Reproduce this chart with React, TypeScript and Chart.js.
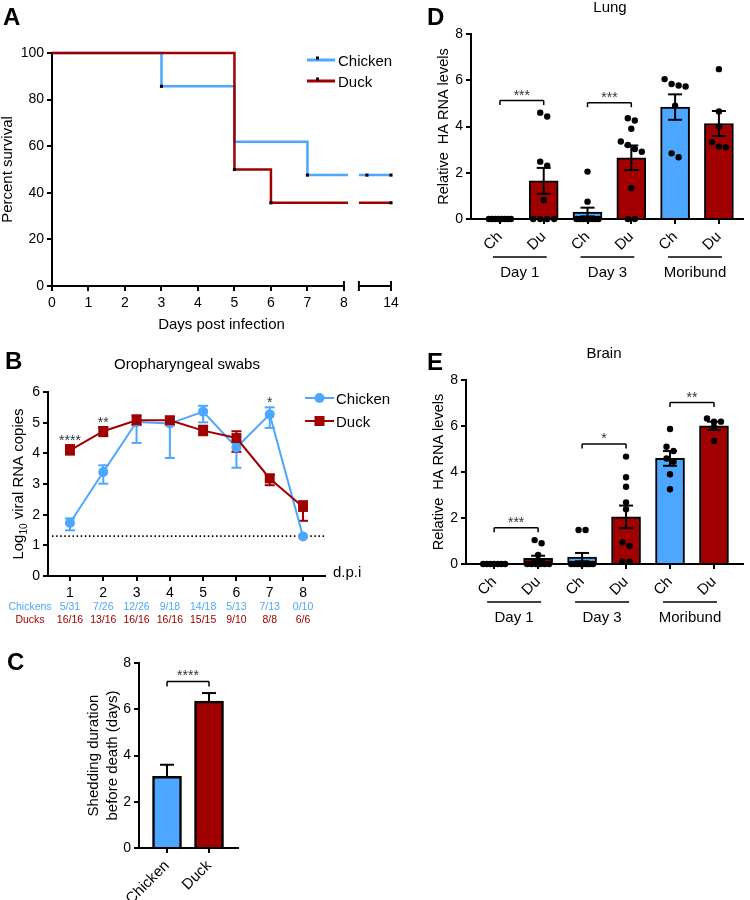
import React, { useEffect, useRef } from 'react';
import { Chart, registerables } from 'chart.js';

Chart.register(...registerables);

const BLUE = '#4DA6FF';
const RED = '#A00000';
const FONT = '"Liberation Sans", Arial, Helvetica, sans-serif';

// ---------- Panel A : survival ----------
const survivalDays = [0, 3, 5, 6, 7, 14];
const chickenSurvival = [100, 85.7, 61.9, 61.9, 47.6, 47.6];
const duckSurvival = [100, 100, 50, 35.7, 35.7, 35.7];
const chickenCensorDays = [3, 7, 11, 14];
const chickenCensorPct = [85.7, 47.6, 47.6, 47.6];
const duckCensorDays = [5, 6, 14];
const duckCensorPct = [50, 35.7, 35.7];
const survivalTickDays = [0, 1, 2, 3, 4, 5, 6, 7, 8, 14];

// ---------- Panel B : oropharyngeal swabs ----------
const swabDays = [1, 2, 3, 4, 5, 6, 7, 8];
const chickenSwab = [1.73, 3.39, 5.02, 4.97, 5.36, 4.19, 5.27, 1.29];
const chickenSwabHi = [1.88, 3.61, 5.2, 5.15, 5.55, 4.4, 5.5, 1.29];
const chickenSwabLo = [1.49, 3.01, 4.34, 3.85, 5.01, 3.53, 4.83, 1.29];
const duckSwab = [4.1, 4.72, 5.08, 5.08, 4.74, 4.5, 3.18, 2.25];
const duckSwabHi = [4.27, 4.86, 5.24, 5.19, 4.9, 4.72, 3.31, 2.44];
const duckSwabLo = [3.96, 4.56, 4.92, 4.92, 4.59, 4.05, 2.96, 1.8];
const swabDetectionLimit = 1.3;
const swabStars = ['****', '**', '', '', '', '', '*', ''];
const chickenPositive = ['5/31', '7/26', '12/26', '9/18', '14/18', '5/13', '7/13', '0/10'];
const duckPositive = ['16/16', '13/16', '16/16', '16/16', '15/15', '9/10', '8/8', '6/6'];

// ---------- Panel C : shedding duration ----------
const shedGroups = ['Chicken', 'Duck'];
const shedMean = [3.1, 6.35];
const shedSem = [0.5, 0.35];
const shedBracketLevel = 7.2;
const shedStars = '****';

// ---------- Panels D / E : tissues ----------
const tissueTicks = ['Ch', 'Du', 'Ch', 'Du', 'Ch', 'Du'];
const tissueGroups = ['Day 1', 'Day 3', 'Moribund'];

const lungMean = [0, 1.65, 0.3, 2.65, 4.84, 4.13];
const lungSem = [0, 0.56, 0.19, 0.53, 0.55, 0.54];
const lungPoints = [
  [0, 0, 0, 0, 0, 0, 0, 0],
  [4.6, 4.43, 2.48, 2.31, 0.82, 0, 0, 0, 0],
  [2.05, 0.75, 0, 0, 0, 0, 0, 0, 0, 0],
  [4.36, 4.26, 3.9, 3.35, 3.2, 3.03, 2.91, 1.33, 0, 0],
  [6.05, 5.84, 5.77, 5.73, 4.9, 2.84, 2.67],
  [6.48, 4.65, 4.0, 3.32, 3.13, 3.1],
];
const lungBracketPairs = [[0, 1], [2, 3]];
const lungBracketLevels = [5.12, 5.03];
const lungBracketStars = ['***', '***'];

const brainMean = [0, 0.25, 0.3, 2.05, 4.59, 6.01];
const brainSem = [0, 0.11, 0.18, 0.49, 0.32, 0.18];
const brainPoints = [
  [0, 0, 0, 0, 0, 0, 0],
  [1.04, 0.9, 0.39, 0, 0, 0, 0, 0, 0],
  [1.48, 1.48, 0, 0, 0, 0, 0, 0, 0, 0],
  [4.67, 3.77, 3.36, 2.68, 2.38, 0.94, 0.78, 0.1, 0.1],
  [5.87, 5.1, 4.91, 4.59, 4.45, 3.9, 3.25],
  [6.33, 6.19, 6.19, 5.97, 5.35],
];
const brainBracketPairs = [[0, 1], [2, 3], [4, 5]];
const brainBracketLevels = [1.58, 5.22, 7.02];
const brainBracketStars = ['***', '*', '**'];

// ---------- helpers ----------
const BRK = { leftEnd: 8, lineEnd: 8.11, resume: 8.41, axisEnd: 9.29, firstRightDay: 10, lastDay: 14 };
function breakX(d: number) {
  if (d <= BRK.leftEnd) return d;
  return BRK.resume + ((d - BRK.firstRightDay) / (BRK.lastDay - BRK.firstRightDay)) * (BRK.axisEnd - BRK.resume);
}

function put(ctx: CanvasRenderingContext2D, s: string, x: number, y: number, size: number, o: any = {}) {
  ctx.save();
  ctx.font = `${o.bold ? 'bold ' : ''}${size}px ${FONT}`;
  ctx.fillStyle = o.color || '#000';
  ctx.textAlign = o.align || 'center';
  ctx.textBaseline = o.baseline || 'alphabetic';
  if (o.rot) {
    ctx.translate(x, y);
    ctx.rotate(o.rot);
    ctx.fillText(s, 0, 0);
  } else {
    ctx.fillText(s, x, y);
  }
  ctx.restore();
}

function seg(ctx: CanvasRenderingContext2D, x1: number, y1: number, x2: number, y2: number, color = '#000', w = 2) {
  ctx.save();
  ctx.strokeStyle = color;
  ctx.lineWidth = w;
  ctx.beginPath();
  ctx.moveTo(x1, y1);
  ctx.lineTo(x2, y2);
  ctx.stroke();
  ctx.restore();
}

function baseOptions(padTop: number, padRight: number, scales: any) {
  return {
    responsive: false,
    animation: false,
    devicePixelRatio: 1,
    events: [],
    layout: { padding: { left: 0, top: padTop, right: padRight, bottom: 0 } },
    plugins: { legend: { display: false }, tooltip: { enabled: false }, title: { display: false } },
    scales,
  };
}

function yScale(min: number, max: number, step: number, width: number) {
  return {
    type: 'linear',
    min,
    max,
    ticks: { stepSize: step, font: { family: FONT, size: 14 }, color: '#000', padding: 3 },
    grid: { drawOnChartArea: false, drawTicks: true, tickLength: 5, color: '#000', lineWidth: 2 },
    border: { display: true, color: '#000', width: 2 },
    afterFit: (s: any) => {
      s.width = width;
      s.paddingTop = 0;
      s.paddingBottom = 0;
    },
  };
}

function xScale(min: number, max: number, values: number[], labels: string[], height: number, rot: number, border: boolean, size = 14) {
  return {
    type: 'linear',
    min,
    max,
    offset: false,
    afterBuildTicks: (s: any) => {
      s.ticks = values.map((v) => ({ value: v }));
    },
    ticks: {
      autoSkip: false,
      font: { family: FONT, size },
      color: '#000',
      padding: 4,
      minRotation: rot,
      maxRotation: rot,
      callback: (_v: any, i: number) => labels[i],
    },
    grid: { offset: false, drawOnChartArea: false, drawTicks: true, tickLength: 5, color: '#000', lineWidth: 2 },
    border: { display: border, color: '#000', width: 2 },
    afterFit: (s: any) => {
      s.height = height;
      s.paddingLeft = 0;
      s.paddingRight = 0;
    },
  };
}

function swarmOffsets(py: number[], spacing = 7, maxHalf = 11, tol = 5) {
  const idx = py.map((_, i) => i).sort((a, b) => py[a] - py[b]);
  const offs = new Array(py.length).fill(0);
  let cluster: number[] = [];
  const flush = () => {
    const n = cluster.length;
    if (!n) return;
    const s = n > 1 ? Math.min(spacing, (2 * maxHalf) / (n - 1)) : 0;
    cluster.forEach((k, j) => (offs[k] = (j - (n - 1) / 2) * s));
    cluster = [];
  };
  idx.forEach((k) => {
    if (cluster.length && py[k] - py[cluster[cluster.length - 1]] >= tol) flush();
    cluster.push(k);
  });
  flush();
  return offs;
}

// ---------- Panel A config ----------
function stepPoints(vals: number[]) {
  const pts: any[] = [];
  let last = vals[0];
  survivalDays.forEach((d, i) => {
    if (d <= BRK.leftEnd) {
      pts.push({ x: d, y: vals[i] });
      last = vals[i];
    }
  });
  pts.push({ x: BRK.lineEnd, y: last });
  pts.push({ x: (BRK.lineEnd + BRK.resume) / 2, y: null });
  pts.push({ x: BRK.resume, y: last });
  survivalDays.forEach((d, i) => {
    if (d > BRK.leftEnd) pts.push({ x: breakX(d), y: vals[i] });
  });
  return pts;
}

function buildA() {
  const legendPlugin = {
    id: 'aDecor',
    afterDraw(chart: any) {
      const { ctx, chartArea: ca, scales } = chart;
      const x = scales.x;
      put(ctx, 'A', 3, 25, 24, { bold: true, align: 'left' });
      put(ctx, 'Percent survival', 12, (ca.top + ca.bottom) / 2, 15, { rot: -Math.PI / 2 });
      put(ctx, 'Days post infection', (ca.left + ca.right) / 2, 329, 15);
      const yb = ca.bottom;
      const p0 = x.getPixelForValue(0);
      const p8 = x.getPixelForValue(BRK.leftEnd);
      const pr = x.getPixelForValue(BRK.resume);
      const pe = x.getPixelForValue(BRK.axisEnd);
      seg(ctx, p0 - 1, yb, p8, yb);
      seg(ctx, pr, yb, pe + 1, yb);
      seg(ctx, p8, yb - 5, p8, yb + 5);
      seg(ctx, pr, yb - 5, pr, yb + 5);
      seg(ctx, pe, yb - 5, pe, yb + 5);
      const items = [
        { label: 'Chicken', color: BLUE, y: 60 },
        { label: 'Duck', color: RED, y: 81 },
      ];
      items.forEach((it) => {
        seg(ctx, 307, it.y, 335, it.y, it.color, 3);
        ctx.fillStyle = '#000';
        ctx.fillRect(316, it.y - 3.5, 3, 3);
        put(ctx, it.label, 338, it.y + 5.5, 15, { align: 'left' });
      });
    },
  };
  const tickPos = survivalTickDays.map(breakX);
  return {
    type: 'line',
    data: {
      datasets: [
        {
          data: chickenCensorDays.map((d, i) => ({ x: breakX(d), y: chickenCensorPct[i] })).concat(
            duckCensorDays.map((d, i) => ({ x: breakX(d), y: duckCensorPct[i] }))
          ),
          showLine: false,
          pointStyle: 'rect',
          pointRadius: 2.2,
          pointBorderWidth: 0,
          backgroundColor: '#000',
          order: 0,
          clip: false,
        },
        {
          data: stepPoints(duckSurvival),
          borderColor: RED,
          borderWidth: 2.5,
          stepped: 'before',
          pointRadius: 0,
          spanGaps: false,
          order: 1,
          clip: false,
        },
        {
          data: stepPoints(chickenSurvival),
          borderColor: BLUE,
          borderWidth: 2.5,
          stepped: 'before',
          pointRadius: 0,
          spanGaps: false,
          order: 2,
          clip: false,
        },
      ],
    },
    options: baseOptions(53, 9, {
      x: xScale(0, BRK.axisEnd, tickPos, survivalTickDays.map(String), 49, 0, false),
      y: yScale(0, 100, 20, 52),
    }),
    plugins: [legendPlugin],
  };
}

// ---------- Panel B config ----------
function buildB() {
  const plugin = {
    id: 'bDecor',
    beforeDatasetsDraw(chart: any) {
      const { ctx, scales } = chart;
      const { x, y } = scales;
      ctx.save();
      ctx.setLineDash([1.5, 2.6]);
      seg(ctx, chart.chartArea.left + 4, y.getPixelForValue(swabDetectionLimit), chart.chartArea.right, y.getPixelForValue(swabDetectionLimit), '#000', 1.6);
      ctx.restore();
      const series = [
        { hi: chickenSwabHi, lo: chickenSwabLo, c: BLUE },
        { hi: duckSwabHi, lo: duckSwabLo, c: RED },
      ];
      series.forEach((s) => {
        swabDays.forEach((d, i) => {
          if (s.hi[i] === s.lo[i]) return;
          const px = x.getPixelForValue(d);
          const ph = y.getPixelForValue(s.hi[i]);
          const pl = y.getPixelForValue(s.lo[i]);
          seg(ctx, px, ph, px, pl, s.c, 2);
          seg(ctx, px - 5, ph, px + 5, ph, s.c, 2);
          seg(ctx, px - 5, pl, px + 5, pl, s.c, 2);
        });
      });
    },
    afterDraw(chart: any) {
      const { ctx, chartArea: ca, scales } = chart;
      const { x, y } = scales;
      put(ctx, 'B', 5, 34, 24, { bold: true, align: 'left' });
      put(ctx, 'Oropharyngeal swabs', 187, 34, 15);
      ctx.save();
      ctx.translate(23, (ca.top + ca.bottom) / 2);
      ctx.rotate(-Math.PI / 2);
      ctx.fillStyle = '#000';
      ctx.textBaseline = 'alphabetic';
      ctx.textAlign = 'left';
      const f1 = `15px ${FONT}`;
      const f2 = `10px ${FONT}`;
      ctx.font = f1;
      const w1 = ctx.measureText('Log').width;
      const w3 = ctx.measureText(' viral RNA copies').width;
      ctx.font = f2;
      const w2 = ctx.measureText('10').width;
      const x0 = -(w1 + w2 + w3) / 2;
      ctx.font = f1;
      ctx.fillText('Log', x0, 0);
      ctx.font = f2;
      ctx.fillText('10', x0 + w1, 3.5);
      ctx.font = f1;
      ctx.fillText(' viral RNA copies', x0 + w1 + w2, 0);
      ctx.restore();
      swabDays.forEach((d, i) => {
        if (!swabStars[i]) return;
        const top = Math.max(chickenSwabHi[i], duckSwabHi[i]);
        put(ctx, swabStars[i], x.getPixelForValue(d), y.getPixelForValue(top), 14, { color: '#333' });
      });
      put(ctx, 'd.p.i', 333, 242, 15, { align: 'left' });
      put(ctx, 'Chickens', 30, 274.5, 10.5, { color: BLUE });
      put(ctx, 'Ducks', 30, 287.5, 10.5, { color: RED });
      swabDays.forEach((d, i) => {
        const px = x.getPixelForValue(d);
        put(ctx, chickenPositive[i], px, 274.5, 10.5, { color: BLUE });
        put(ctx, duckPositive[i], px, 287.5, 10.5, { color: RED });
      });
      const items = [
        { label: 'Chicken', c: BLUE, y: 63, shape: 'circle' },
        { label: 'Duck', c: RED, y: 86, shape: 'rect' },
      ];
      items.forEach((it) => {
        seg(ctx, 305, it.y, 334, it.y, it.c, 2);
        ctx.save();
        ctx.fillStyle = it.c;
        if (it.shape === 'circle') {
          ctx.beginPath();
          ctx.arc(319.5, it.y, 5, 0, Math.PI * 2);
          ctx.fill();
        } else {
          ctx.fillRect(314.5, it.y - 5, 10, 10);
        }
        ctx.restore();
        put(ctx, it.label, 336, it.y + 6, 15, { align: 'left' });
      });
    },
  };
  return {
    type: 'line',
    data: {
      datasets: [
        {
          data: swabDays.map((d, i) => ({ x: d, y: duckSwab[i] })),
          borderColor: RED,
          backgroundColor: RED,
          borderWidth: 2,
          pointStyle: 'rect',
          pointRadius: 7,
          pointBorderWidth: 0,
          order: 0,
          clip: false,
        },
        {
          data: swabDays.map((d, i) => ({ x: d, y: chickenSwab[i] })),
          borderColor: BLUE,
          backgroundColor: BLUE,
          borderWidth: 2,
          pointStyle: 'circle',
          pointRadius: 5,
          pointBorderWidth: 0,
          order: 1,
          clip: false,
        },
      ],
    },
    options: baseOptions(57, 75, {
      x: xScale(0.34, 8.66, swabDays, swabDays.map(String), 64, 0, true),
      y: yScale(0, 6, 1, 48),
    }),
    plugins: [plugin],
  };
}

// ---------- Panel C config ----------
function buildC() {
  const plugin = {
    id: 'cDecor',
    afterDraw(chart: any) {
      const { ctx, chartArea: ca, scales } = chart;
      const { x, y } = scales;
      put(ctx, 'C', 7, 25, 24, { bold: true, align: 'left' });
      const cy = (ca.top + ca.bottom) / 2;
      put(ctx, 'Shedding duration', 97.5, cy, 15, { rot: -Math.PI / 2 });
      put(ctx, 'before death (days)', 116.5, cy, 15, { rot: -Math.PI / 2 });
      shedMean.forEach((m, i) => {
        const px = x.getPixelForValue(i);
        const pm = y.getPixelForValue(m);
        const ph = y.getPixelForValue(m + shedSem[i]);
        seg(ctx, px, pm, px, ph);
        seg(ctx, px - 7, ph, px + 7, ph);
      });
      const by = y.getPixelForValue(shedBracketLevel);
      const xa = x.getPixelForValue(0);
      const xb = x.getPixelForValue(1);
      seg(ctx, xa, by + 5, xa, by, '#000', 1.5);
      seg(ctx, xa, by, xb, by, '#000', 1.5);
      seg(ctx, xb, by, xb, by + 5, '#000', 1.5);
      put(ctx, shedStars, (xa + xb) / 2, by - 2, 14, { color: '#333' });
    },
  };
  return {
    type: 'bar',
    data: {
      datasets: [
        {
          data: shedMean.map((m, i) => ({ x: i, y: m })),
          backgroundColor: [BLUE, RED],
          borderColor: '#000',
          borderWidth: 2.5,
          barThickness: 29,
          borderSkipped: 'start',
        },
      ],
    },
    options: baseOptions(18, 22, {
      x: xScale(-0.667, 1.69, [0, 1], shedGroups, 52, 45, true, 15),
      y: yScale(0, 8, 2, 139),
    }),
    plugins: [plugin],
  };
}

// ---------- Panels D / E config ----------
type TissueSpec = {
  letter: string;
  letterY: number;
  title: string;
  titleX: number;
  titleY: number;
  yTitleX: number;
  means: number[];
  sems: number[];
  points: number[][];
  pairs: number[][];
  levels: number[];
  stars: string[];
  xMin: number;
  xMax: number;
  yWidth: number;
  padTop: number;
  xHeight: number;
};

function buildTissue(s: TissueSpec) {
  const plugin = {
    id: 'tissueDecor',
    afterDatasetsDraw(chart: any) {
      const { ctx, scales } = chart;
      const { x, y } = scales;
      s.points.forEach((vals, gi) => {
        const cx = x.getPixelForValue(gi);
        const py = vals.map((v) => y.getPixelForValue(v));
        const off = swarmOffsets(py);
        ctx.save();
        ctx.fillStyle = '#000';
        py.forEach((p, k) => {
          ctx.beginPath();
          ctx.arc(cx + off[k], p, 3.2, 0, Math.PI * 2);
          ctx.fill();
        });
        ctx.restore();
      });
      s.means.forEach((m, i) => {
        if (!s.sems[i]) return;
        const px = x.getPixelForValue(i);
        const ph = y.getPixelForValue(m + s.sems[i]);
        const pl = y.getPixelForValue(m - s.sems[i]);
        seg(ctx, px, ph, px, pl);
        seg(ctx, px - 7, ph, px + 7, ph);
        seg(ctx, px - 7, pl, px + 7, pl);
      });
    },
    afterDraw(chart: any) {
      const { ctx, chartArea: ca, scales } = chart;
      const { x, y } = scales;
      put(ctx, s.letter, 27, s.letterY, 24, { bold: true, align: 'left' });
      put(ctx, s.title, s.titleX, s.titleY, 15);
      put(ctx, 'Relative  HA RNA levels', s.yTitleX, (ca.top + ca.bottom) / 2, 14.5, { rot: -Math.PI / 2 });
      s.pairs.forEach((pr, k) => {
        const xa = x.getPixelForValue(pr[0]);
        const xb = x.getPixelForValue(pr[1]);
        const by = y.getPixelForValue(s.levels[k]);
        seg(ctx, xa, by + 4.5, xa, by, '#000', 1.5);
        seg(ctx, xa, by, xb, by, '#000', 1.5);
        seg(ctx, xb, by, xb, by + 4.5, '#000', 1.5);
        put(ctx, s.stars[k], (xa + xb) / 2, by - 1, 14, { color: '#333' });
      });
      tissueGroups.forEach((g, gi) => {
        const xa = x.getPixelForValue(gi * 2);
        const xb = x.getPixelForValue(gi * 2 + 1);
        seg(ctx, xa - 7, ca.bottom + 38, xb + 3, ca.bottom + 38, '#000', 1.5);
        put(ctx, g, (xa + xb) / 2 - 2, ca.bottom + 57.5, 15);
      });
    },
  };
  return {
    type: 'bar',
    data: {
      datasets: [
        {
          data: s.means.map((m, i) => ({ x: i, y: m })),
          backgroundColor: tissueTicks.map((t) => (t === 'Ch' ? BLUE : RED)),
          borderColor: '#000',
          borderWidth: 2,
          barThickness: 29,
          borderSkipped: 'start',
        },
      ],
    },
    options: baseOptions(s.padTop, 7, {
      x: xScale(s.xMin, s.xMax, tissueTicks.map((_, i) => i), tissueTicks, s.xHeight, 45, true, 15),
      y: yScale(0, 8, 2, s.yWidth),
    }),
    plugins: [plugin],
  };
}

function buildD() {
  return buildTissue({
    letter: 'D',
    letterY: 25,
    title: 'Lung',
    titleX: 210,
    titleY: 12,
    yTitleX: 47.5,
    means: lungMean,
    sems: lungSem,
    points: lungPoints,
    pairs: lungBracketPairs,
    levels: lungBracketLevels,
    stars: lungBracketStars,
    xMin: -0.66,
    xMax: 5.55,
    yWidth: 71,
    padTop: 34,
    xHeight: 71,
  });
}

function buildE() {
  return buildTissue({
    letter: 'E',
    letterY: 40,
    title: 'Brain',
    titleX: 204,
    titleY: 28,
    yTitleX: 42.5,
    means: brainMean,
    sems: brainSem,
    points: brainPoints,
    pairs: brainBracketPairs,
    levels: brainBracketLevels,
    stars: brainBracketStars,
    xMin: -0.64,
    xMax: 5.66,
    yWidth: 66,
    padTop: 50,
    xHeight: 76,
  });
}

function ChartCanvas(props: { left: number; top: number; width: number; height: number; build: () => any }) {
  const ref = useRef<HTMLCanvasElement | null>(null);
  useEffect(() => {
    const chart = new Chart(ref.current as HTMLCanvasElement, props.build());
    return () => chart.destroy();
  }, []);
  return (
    <canvas
      ref={ref}
      width={props.width}
      height={props.height}
      style={{ position: 'absolute', left: props.left, top: props.top, width: props.width, height: props.height }}
    />
  );
}

export default function App() {
  return (
    <div style={{ position: 'absolute', left: 0, top: 0, width: 750, height: 900, background: '#fff', overflow: 'hidden' }}>
      <ChartCanvas left={0} top={0} width={400} height={335} build={buildA} />
      <ChartCanvas left={0} top={335} width={400} height={305} build={buildB} />
      <ChartCanvas left={0} top={645} width={260} height={255} build={buildC} />
      <ChartCanvas left={400} top={0} width={350} height={290} build={buildD} />
      <ChartCanvas left={400} top={330} width={350} height={310} build={buildE} />
    </div>
  );
}
